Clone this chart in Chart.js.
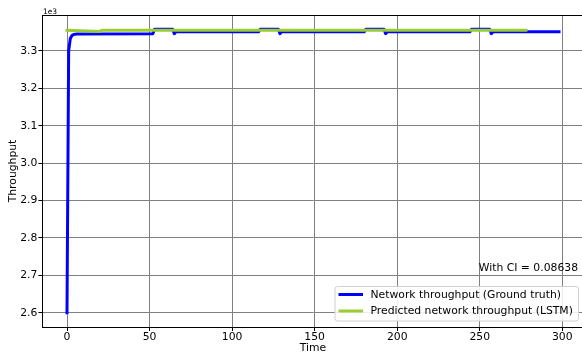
<!DOCTYPE html>
<html>
<head>
<meta charset="utf-8">
<script src="https://cdn.jsdelivr.net/npm/chart.js@4/dist/chart.umd.min.js"></script>
<style>
  html, body { margin: 0; padding: 0; background: #fff; overflow: hidden; }
  #wrap { width: 582px; height: 355px; overflow: hidden; position: relative; }
  canvas { display: block; }
</style>
</head>
<body>
<div id="wrap"><canvas id="chart" width="600" height="355"></canvas></div>
<script>
// Measured network throughput (ground truth), sampled at the points where it changes
const truthTime = [0, 1, 2, 3, 4, 6, 52, 53, 64, 65, 66, 116, 117, 128, 129, 130, 180, 181, 192, 193, 194, 244, 245, 256, 257, 258, 298];
const truthThroughput = [2600, 3300, 3333, 3341, 3344, 3345, 3346, 3358, 3358, 3346, 3351, 3351, 3358, 3358, 3346, 3351, 3351, 3358, 3358, 3346, 3351, 3351, 3358, 3358, 3346, 3351, 3351];

// LSTM prediction of the throughput
const predTime = [0, 20, 21, 278];
const predThroughput = [3355, 3352, 3355, 3355];

// Axis ticks
const timeTicks = [0, 50, 100, 150, 200, 250, 300];
const throughputTicks = [2600, 2700, 2800, 2900, 3000, 3100, 3200, 3300];

const seriesLabels = ['Network throughput (Ground truth)', 'Predicted network throughput (LSTM)'];
const annotationText = 'With CI = 0.08638';

const FONT = 'DejaVu Sans';
const FS = 10.8;

const toPoints = (xs, ys) => xs.map((x, i) => ({ x: x, y: ys[i] }));

// Top spine, offset label, annotation and in-plot legend
const extras = {
  id: 'extras',
  afterDatasetsDraw(chart) {
    const { ctx, chartArea: a } = chart;
    ctx.save();
    ctx.strokeStyle = '#000';
    ctx.lineWidth = 1;
    ctx.beginPath();
    ctx.moveTo(a.left, a.top + 0.5);
    ctx.lineTo(a.right, a.top + 0.5);
    ctx.stroke();

    // scale multiplier above the y axis
    ctx.fillStyle = '#000';
    ctx.font = '7.5px "' + FONT + '"';
    ctx.textAlign = 'left';
    ctx.textBaseline = 'alphabetic';
    ctx.fillText('1e3', a.left + 0.5, a.top - 1);

    // annotation
    ctx.font = FS + 'px "' + FONT + '"';
    ctx.textAlign = 'right';
    ctx.fillText(annotationText, 578, 270.5);

    // legend box
    const bx = 335, by = 286.5, bw = 243.5, bh = 34.5, r = 2.5;
    ctx.beginPath();
    ctx.moveTo(bx + r, by);
    ctx.lineTo(bx + bw - r, by);
    ctx.quadraticCurveTo(bx + bw, by, bx + bw, by + r);
    ctx.lineTo(bx + bw, by + bh - r);
    ctx.quadraticCurveTo(bx + bw, by + bh, bx + bw - r, by + bh);
    ctx.lineTo(bx + r, by + bh);
    ctx.quadraticCurveTo(bx, by + bh, bx, by + bh - r);
    ctx.lineTo(bx, by + r);
    ctx.quadraticCurveTo(bx, by, bx + r, by);
    ctx.closePath();
    ctx.fillStyle = 'rgba(255,255,255,0.85)';
    ctx.fill();
    ctx.strokeStyle = '#d0d0d0';
    ctx.lineWidth = 1;
    ctx.stroke();

    const rows = [294.5, 311];
    chart.data.datasets.forEach((ds, i) => {
      const y = rows[i];
      ctx.strokeStyle = ds.borderColor;
      ctx.lineWidth = 3;
      ctx.lineCap = 'butt';
      ctx.beginPath();
      ctx.moveTo(338.5, y);
      ctx.lineTo(363, y);
      ctx.stroke();
      ctx.fillStyle = '#000';
      ctx.font = FS + 'px "' + FONT + '"';
      ctx.textAlign = 'left';
      ctx.textBaseline = 'middle';
      ctx.fillText(ds.label, 370.5, y + 0.5);
    });
    ctx.restore();
  }
};

new Chart(document.getElementById('chart'), {
  type: 'line',
  data: {
    datasets: [
      {
        label: seriesLabels[0],
        data: toPoints(truthTime, truthThroughput),
        borderColor: '#0000ff',
        borderWidth: 3,
        borderCapStyle: 'square',
        borderJoinStyle: 'round',
        pointRadius: 0,
        tension: 0,
        fill: false,
        order: 1
      },
      {
        label: seriesLabels[1],
        data: toPoints(predTime, predThroughput),
        borderColor: '#9acd32',
        borderWidth: 3,
        borderCapStyle: 'square',
        borderJoinStyle: 'round',
        pointRadius: 0,
        tension: 0,
        fill: false,
        order: 0
      }
    ]
  },
  options: {
    responsive: false,
    animation: false,
    layout: { padding: { left: 0, top: 15, right: 16.4, bottom: 0 } },
    plugins: {
      legend: { display: false },
      tooltip: { enabled: false }
    },
    scales: {
      x: {
        type: 'linear',
        min: -14.9,
        max: 312.9,
        afterBuildTicks: (s) => { s.ticks = timeTicks.map(v => ({ value: v })); },
        afterFit: (s) => { s.height = 28; },
        grid: { color: '#808080', lineWidth: 1, tickLength: 4, tickColor: '#000' },
        border: { display: true, color: '#000', width: 1 },
        ticks: {
          color: '#000',
          font: { family: FONT, size: FS },
          padding: 0,
          maxRotation: 0,
          callback: (v) => String(v)
        },
        title: {
          display: true,
          text: 'Time',
          color: '#000',
          font: { family: FONT, size: FS },
          padding: { top: 0, bottom: 0.5 }
        }
      },
      y: {
        type: 'linear',
        min: 2562,
        max: 3396,
        afterBuildTicks: (s) => { s.ticks = throughputTicks.map(v => ({ value: v })); },
        afterFit: (s) => { s.width = 42.4; },
        grid: { color: '#808080', lineWidth: 1, tickLength: 4, tickColor: '#000' },
        border: { display: true, color: '#000', width: 1 },
        ticks: {
          color: '#000',
          font: { family: FONT, size: FS },
          padding: 1,
          callback: (v) => (v / 1000).toFixed(1)
        },
        title: {
          display: true,
          text: 'Throughput',
          color: '#000',
          font: { family: FONT, size: FS },
          padding: { top: 7, bottom: 0 }
        }
      }
    }
  },
  plugins: [extras]
});
</script>
</body>
</html>
